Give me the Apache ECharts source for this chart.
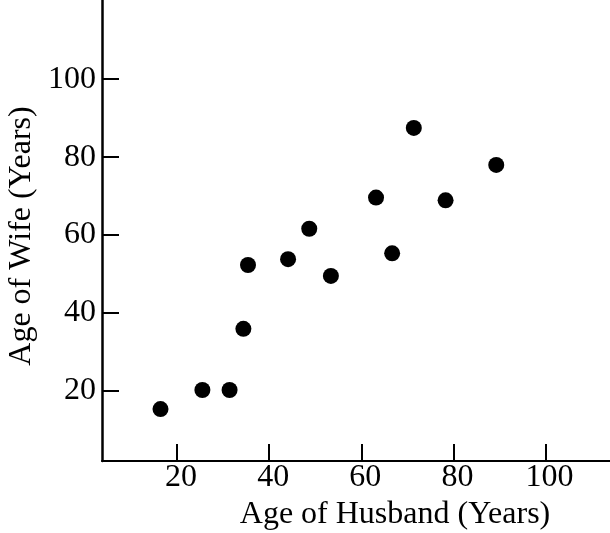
<!DOCTYPE html>
<html>
<head>
<meta charset="utf-8">
<script src="https://cdn.jsdelivr.net/npm/echarts@6/dist/echarts.min.js"></script>
<style>
  html, body { margin: 0; padding: 0; background: #fff; }
  #chart { width: 610px; height: 533px; }
</style>
</head>
<body>
<div id="chart"></div>
<script>
(function(){
  // ages
  const husbandAges = [16.4, 25.5, 31.4, 34.4, 35.4, 44.1, 48.7, 53.4, 63.2, 66.7, 71.4, 78.3, 89.3];
  const wifeAges    = [15.3, 20.2, 20.2, 35.9, 52.3, 53.8, 61.6, 49.5, 69.6, 55.3, 87.5, 68.9, 78.0];
  const xTicks = [20, 40, 60, 80, 100];
  const yTicks = [20, 40, 60, 80, 100];

  const font = "'Liberation Serif', 'Times New Roman', serif";
  const points = husbandAges.map((h, i) => [h, wifeAges[i]]);

  const chart = echarts.init(document.getElementById('chart'), null, { renderer: 'canvas' });
  chart.setOption({
    animation: false,
    backgroundColor: '#fff',
    grid: { left: 102, right: 0, top: 0, bottom: 72, outerBoundsMode: 'none' },
    xAxis: {
      type: 'value',
      min: 3.7, max: 114,
      name: 'Age of Husband (Years)',
      nameLocation: 'middle',
      nameGap: 32,
      nameTextStyle: { color: '#000', fontFamily: font, fontSize: 32, padding: [0, 0, 0, 78] },
      splitLine: { show: false },
      axisLine: { lineStyle: { color: '#000', width: 2 } },
      axisTick: { inside: true, length: 17, lineStyle: { color: '#000', width: 2 }, customValues: xTicks },
      axisLabel: { color: '#000', fontFamily: font, fontSize: 32, margin: 1, padding: [0, 0, 0, 8], customValues: xTicks }
    },
    yAxis: {
      type: 'value',
      min: 1.98, max: 120.33,
      name: 'Age of Wife (Years)',
      nameLocation: 'middle',
      nameGap: 57,
      nameRotate: 90,
      nameTextStyle: { color: '#000', fontFamily: font, fontSize: 32, padding: [0, 11, 0, 0] },
      splitLine: { show: false },
      axisLine: { lineStyle: { color: '#000', width: 2.5 } },
      axisTick: { inside: true, length: 17, lineStyle: { color: '#000', width: 2 }, customValues: yTicks },
      axisLabel: { color: '#000', fontFamily: font, fontSize: 32, margin: 6, customValues: yTicks }
    },
    series: [{
      type: 'scatter',
      data: points,
      symbol: 'circle',
      symbolSize: 16,
      itemStyle: { color: '#000', opacity: 1 }
    }]
  });
})();
</script>
</body>
</html>
